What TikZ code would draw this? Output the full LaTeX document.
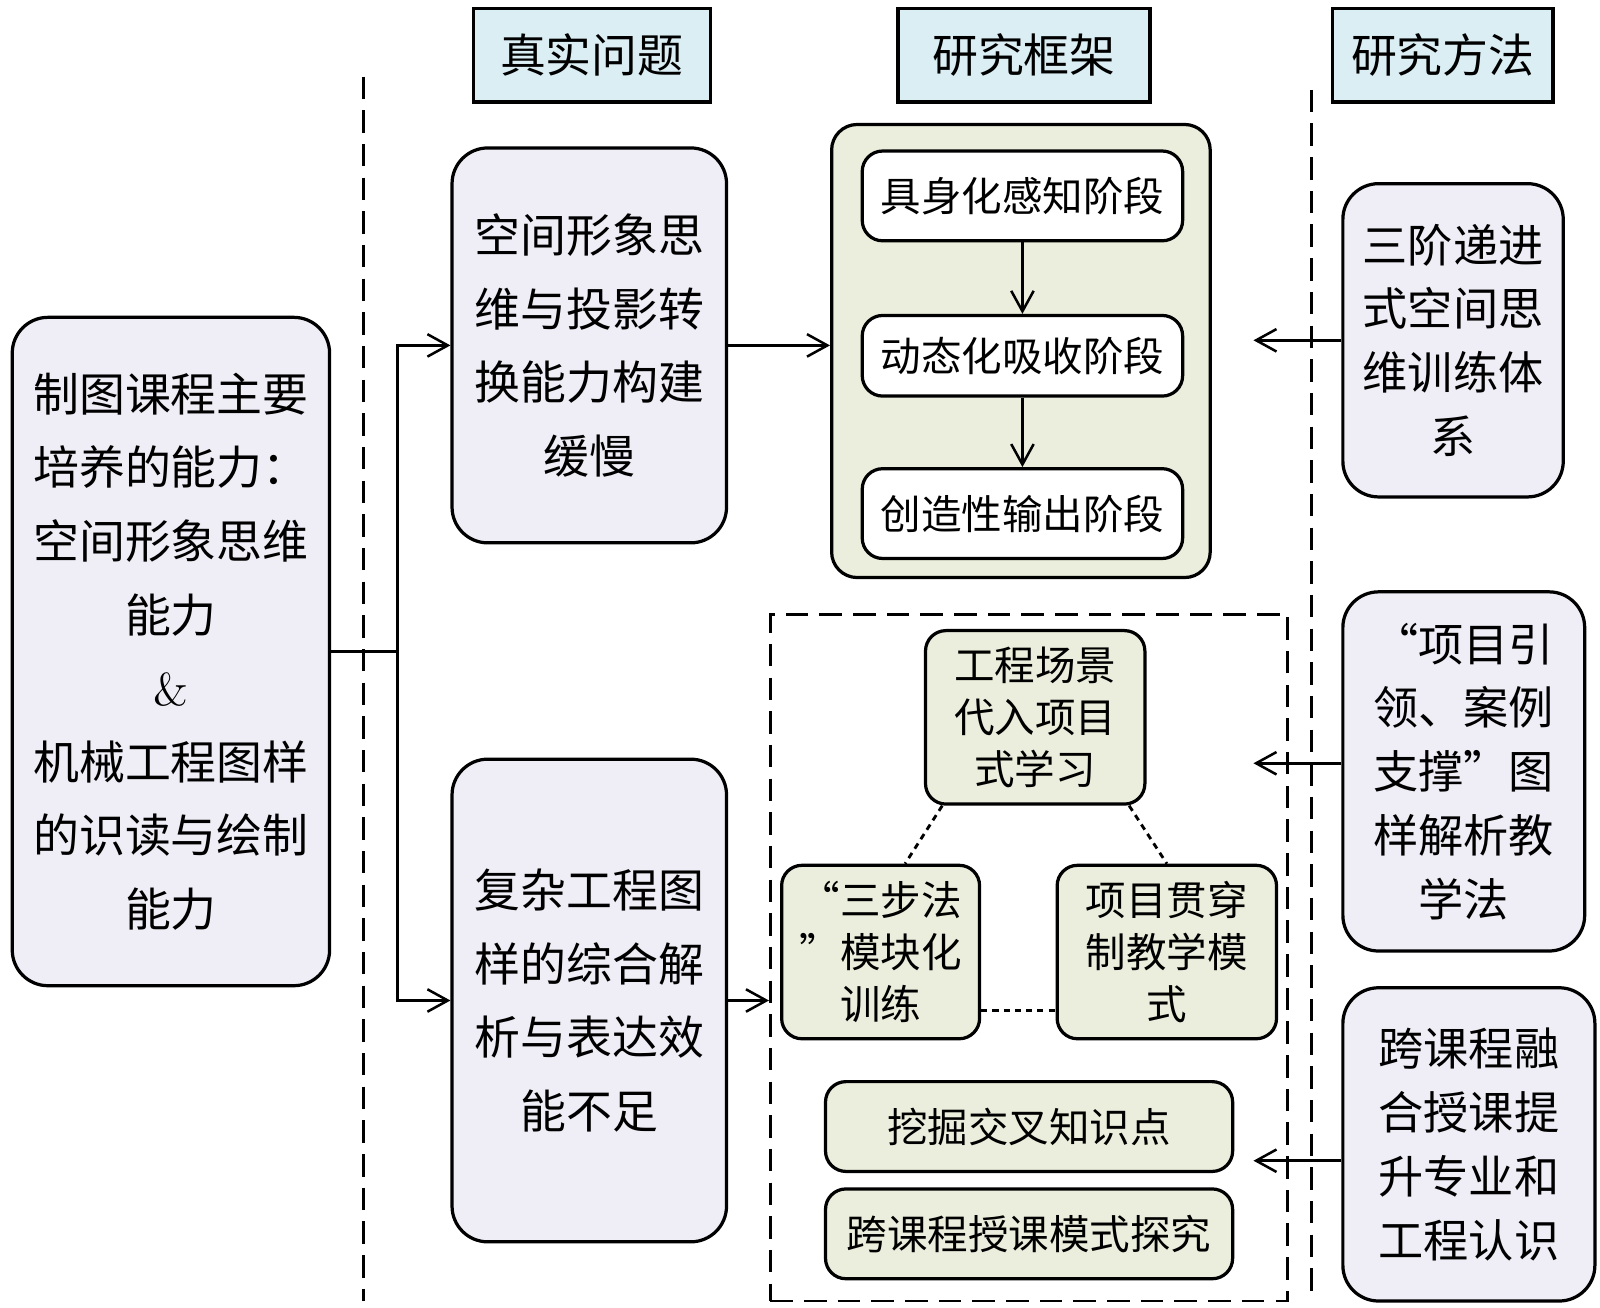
\documentclass[tikz,border=0pt]{standalone}
\usepackage{fontspec}
\newfontfamily\cjk{Noto Sans CJK SC}
\usetikzlibrary{arrows.meta}
\usetikzlibrary{positioning}
\usetikzlibrary{calc}
\definecolor{headcyan}{HTML}{DAEEF3}
\definecolor{boxlilac}{HTML}{EFEDF5}
\definecolor{boxolive}{HTML}{EBEEDC}
\tikzstyle{head}=[rectangle, draw, fill=headcyan, line width=0.9pt, minimum height=9.2mm, font=\cjk\fontsize{12.8}{15}\selectfont]
\tikzstyle{big}=[rectangle, rounded corners=3.5mm, draw, fill=boxlilac, line width=0.9pt, align=center, inner sep=0pt, font=\cjk\fontsize{12.8}{20.5}\selectfont]
\tikzstyle{method}=[big, font=\cjk\fontsize{12.6}{17.8}\selectfont]
\tikzstyle{frame}=[rectangle, rounded corners=2.5mm, draw, fill=boxolive, line width=0.9pt]
\tikzstyle{stage}=[rectangle, rounded corners=2mm, draw, fill=white, line width=0.9pt, minimum width=31.4mm, align=center, inner sep=0pt, font=\cjk\fontsize{11.3}{14.5}\selectfont]
\tikzstyle{task}=[stage, fill=boxolive]
\tikzstyle{link}=[line width=0.7pt]
\tikzstyle{guide}=[line width=0.8pt, dash pattern=on 2.2mm off 1.1mm]
\tikzstyle{tie}=[line width=0.8pt, dash pattern=on 0.6mm off 0.5mm]

\begin{document}
\begin{tikzpicture}[x=0.1mm, y=-0.1mm, >={Straight Barb[length=2mm, width=2.2mm]}]
    \useasboundingbox (0,0) rectangle (1568,1281);

    % guide lines
    \draw[guide] (356,75) -- (356,1275);
    \draw[guide] (1285,88) -- (1285,1275);

    % headers
    \node[head, minimum width=23.2mm] (H1) at (580,54) {真实问题};
    \node[head, minimum width=24.7mm] (H2) at (1003.5,54) {研究框架};
    \node[head, minimum width=21.6mm] (H3) at (1414,54) {研究方法};

    % abilities and problems
    \node[big, minimum width=31.1mm, minimum height=65.5mm] (Cap) at (167.5,638.5) {制图课程主要\\培养的能力：\\空间形象思维\\能力\\{\rmfamily\&}\\机械工程图样\\的识读与绘制\\能力};
    \node[big, minimum width=26.9mm, minimum height=38.7mm] (Q1) at (577.5,338.5) {空间形象思\\维与投影转\\换能力构建\\缓慢};
    \node[big, minimum width=26.9mm, minimum height=47.3mm] (Q2) at (577.5,980.5) {复杂工程图\\样的综合解\\析与表达效\\能不足};

    % framework
    \node[frame, minimum width=37.1mm, minimum height=44.4mm] (FW) at (1000.5,344) {};
    \node[stage, minimum height=8.8mm] (S1) at (1002,192) {具身化感知阶段};
    \node[stage, minimum height=7.9mm, below=7mm of S1] (S2) {动态化吸收阶段};
    \node[stage, minimum height=8.8mm, below=6.8mm of S2] (S3) {创造性输出阶段};

    \node[draw, guide, minimum width=50.7mm, minimum height=67.3mm] (PB) at (1008.5,938.5) {};
    \node[task, minimum width=21.5mm, minimum height=17mm] (T1) at (1014.5,703) {工程场景\\代入项目\\式学习};
    \node[task, minimum width=19.4mm, minimum height=17mm] (T2) at (863,933) {“三步法\\”模块化\\训练};
    \node[task, minimum width=21.5mm, minimum height=17mm] (T3) at (1143.5,933) {项目贯穿\\制教学模\\式};
    \node[task, minimum width=39.9mm, minimum height=8.8mm] (T4) at (1008.5,1104) {挖掘交叉知识点};
    \node[task, minimum width=39.9mm, minimum height=8.8mm, below=1.4mm of T4] (T5) {跨课程授课模式探究};

    % methods
    \node[method, minimum width=21.6mm, minimum height=30.7mm] (M1) at (1424,333.5) {三阶递进\\式空间思\\维训练体\\系};
    \node[method, minimum width=23.7mm, minimum height=35.2mm] (M2) at (1434.5,756) {“项目引\\领、案例\\支撑”图\\样解析教\\学法};
    \node[method, minimum width=24.7mm, minimum height=30.7mm] (M3) at (1439.5,1121.5) {跨课程融\\合授课提\\升专业和\\工程认识};

    % connectors
    \draw[link] (Cap.east) -- ++(65,0) coordinate (J);
    \draw[link, ->] (J) |- (Q1.west);
    \draw[link, ->] (J) |- (Q2.west);
    \draw[link, ->] (Q1.east) -- (Q1.east -| FW.west);
    \draw[link, ->] (Q2.east) -- (Q2.east -| PB.west);
    \draw[link, ->] (S1) -- (S2);
    \draw[link, ->] (S2) -- (S3);
    \draw[link, ->] (M1.west) -- ++(-86,0);
    \draw[link, ->] ($(M2.west)+(0,-8)$) -- ++(-86,0);
    \draw[link, ->] ($(M3.west)+(0,16)$) -- ++(-86,0);

    \draw[tie] ($(T1.south west)+(18,0)$) -- ($(T2.north)+(24,0)$);
    \draw[tie] ($(T1.south east)+(-17,0)$) -- (T3.north);
    \draw[tie] ($(T2.east)+(0,57)$) -- ($(T3.west)+(0,57)$);
\end{tikzpicture}
\end{document}
